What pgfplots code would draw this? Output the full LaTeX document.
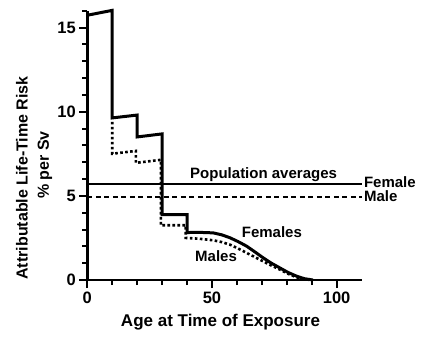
\documentclass[border=0pt]{standalone}
\usepackage{fontspec}
\setmainfont{Liberation Sans}
\usepackage{pgfplots}
\pgfplotsset{compat=1.18}
\begin{document}
\begin{tikzpicture}
\useasboundingbox (-87.3bp,-63bp) rectangle (344.7bp,280bp);
\begin{axis}[
  at={(0,0)}, anchor=south west,
  scale only axis, width=274.3bp, height=269.3bp,
  xmin=0, xmax=110, ymin=0, ymax=16,
  axis x line*=bottom, axis y line*=left,
  axis line style={-, line width=2.5bp},
  every tick/.style={black, line width=2bp},
  tick align=outside,
  major tick length=8bp, minor tick length=5bp,
  xtick={0,50,100}, minor xtick={10,20,30,40,60,70,80,90},
  ytick={0,5,10,15}, minor ytick={1,2,3,4,6,7,8,9,11,12,13,14,16},
  tick label style={font=\fontsize{16.5bp}{18bp}\selectfont\bfseries},
  /pgf/number format/assume math mode=true,
  clip=false,
]
% Female step/curve
\addplot[black, line width=3bp, line join=miter] coordinates {
(0,15.73) (10,16.02) (10,9.63) (20,9.8) (20,8.5) (30,8.68) (30,3.88) (40,3.88)
(40,2.82) (45,2.83) (50.5,2.80) (54,2.68) (57.2,2.51) (60.5,2.28) (63.9,2.01)
(67.2,1.67) (70.5,1.32) (73.8,1.0) (77.2,0.72) (80.5,0.45) (83.9,0.23) (87,0.08) (90.5,0)
};
% Male dotted
\addplot[black, line width=2.6bp, dash pattern=on 2.6bp off 2.4bp] coordinates {
(10,9.4) (10,7.5) (19.5,7.67) (19.5,6.96) (29.5,7.14) (29.5,3.25) (39.5,3.25)
(39.5,2.5) (45,2.45) (50.5,2.36) (54,2.25) (57.2,2.10) (60.5,1.87) (63.9,1.61)
(67.2,1.36) (70.5,1.11) (73.8,0.86) (77.2,0.62) (80.5,0.37) (83.9,0.16) (87,0.05) (89.5,0)
};
% Population averages
\addplot[black, line width=1.8bp] coordinates {(0,5.72) (110,5.72)};
\addplot[black, line width=1.8bp, dash pattern=on 5bp off 3.5bp] coordinates {(0,4.93) (110,4.93)};
\node[anchor=base, inner sep=0pt, font=\fontsize{15bp}{17bp}\selectfont\bfseries] at (axis cs:70.7,6.05) {Population averages};
\node[anchor=base west, inner sep=0pt, font=\fontsize{15bp}{17bp}\selectfont\bfseries] at (axis cs:110.9,5.52) {Female};
\node[anchor=base west, inner sep=0pt, font=\fontsize{15bp}{17bp}\selectfont\bfseries] at (axis cs:110.9,4.67) {Male};
\node[anchor=base west, inner sep=0pt, font=\fontsize{15bp}{17bp}\selectfont\bfseries] at (axis cs:61.9,2.5) {Females};
\node[anchor=base west, inner sep=0pt, font=\fontsize{15bp}{17bp}\selectfont\bfseries] at (axis cs:43.2,1.11) {Males};
\end{axis}
\node[rotate=90, inner sep=0pt, font=\fontsize{16bp}{18bp}\selectfont\bfseries] at (-65.3bp,102bp) {Attributable Life-Time Risk};
\node[rotate=90, inner sep=0pt, font=\fontsize{16bp}{18bp}\selectfont\bfseries] at (-42.3bp,115bp) {\% per Sv};
\node[inner sep=0pt, font=\fontsize{17bp}{19bp}\selectfont\bfseries] at (133.2bp,-42.5bp) {Age at Time of Exposure};
\end{tikzpicture}
\end{document}
